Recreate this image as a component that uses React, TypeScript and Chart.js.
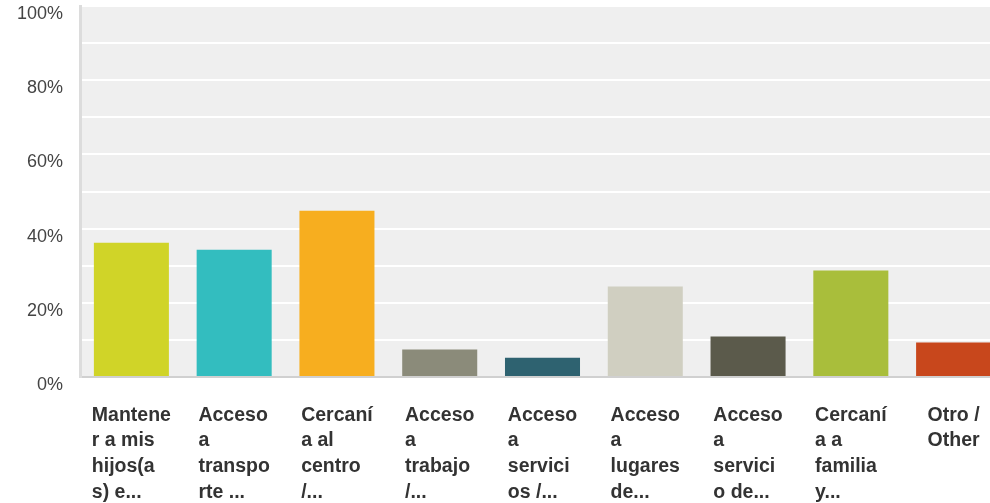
import React, { useEffect, useRef } from "react";
import { Chart, registerables } from "chart.js";

Chart.register(...registerables);

const categories: string[][] = [
  ["Mantene", "r a mis", "hijos(a", "s) e..."],
  ["Acceso", "a", "transpo", "rte ..."],
  ["Cercaní", "a al", "centro", "/..."],
  ["Acceso", "a", "trabajo", "/..."],
  ["Acceso", "a", "servici", "os /..."],
  ["Acceso", "a", "lugares", "de..."],
  ["Acceso", "a", "servici", "o de..."],
  ["Cercaní", "a a", "familia", "y..."],
  ["Otro /", "Other"],
];

const values: number[] = [36.2, 34.3, 44.8, 7.4, 5.2, 24.4, 10.9, 28.7, 9.3];

const barColors: string[] = [
  "#d0d428",
  "#33bdbf",
  "#f7ae1f",
  "#8b8b7a",
  "#2e6270",
  "#d0cfc1",
  "#5b5a4b",
  "#a9be3b",
  "#c8471c",
];

const yTicks: number[] = [0, 20, 40, 60, 80, 100];

const FONT = "'Liberation Sans', Arial, Helvetica, sans-serif";

const bgPlugin = {
  id: "plotBg",
  beforeDraw(chart: any) {
    const { ctx, chartArea } = chart;
    if (!chartArea) return;
    ctx.save();
    ctx.fillStyle = "#efefef";
    ctx.fillRect(chartArea.left, chartArea.top, chartArea.right - chartArea.left, chartArea.bottom - chartArea.top);
    ctx.restore();
  },
};

// Category labels: each block centred under its category, lines left-aligned within the block
const xLabelPlugin = {
  id: "xBlockLabels",
  afterDraw(chart: any) {
    const xs = chart.scales.x;
    const ctx = chart.ctx;
    const labels: string[][] = chart.data.labels;
    ctx.save();
    ctx.font = `bold 19.5px ${FONT}`;
    ctx.fillStyle = "#333333";
    ctx.textAlign = "left";
    ctx.textBaseline = "alphabetic";
    labels.forEach((lines, i) => {
      const cx = xs.getPixelForTick(i);
      const w = Math.max(...lines.map((l) => ctx.measureText(l).width));
      const left = cx - w / 2;
      lines.forEach((l, k) => {
        ctx.fillText(l, left, xs.top + 43.5 + k * 25.7);
      });
    });
    ctx.restore();
  },
};

function zeroPadding(scale: any) {
  scale.paddingTop = 0;
  scale.paddingBottom = 0;
  scale.paddingLeft = 0;
  scale.paddingRight = 0;
}

export default function App() {
  const ref = useRef<HTMLCanvasElement | null>(null);

  useEffect(() => {
    if (!ref.current) return;
    const chart = new Chart(ref.current, {
      type: "bar",
      data: {
        labels: categories,
        datasets: [
          {
            data: values,
            backgroundColor: barColors,
            borderWidth: 0,
            barPercentage: 0.73,
            categoryPercentage: 1,
          },
        ],
      },
      plugins: [bgPlugin, xLabelPlugin],
      options: {
        animation: false,
        responsive: false,
        maintainAspectRatio: false,
        layout: { padding: { top: 6, right: 0, left: 0, bottom: 0 } },
        plugins: {
          legend: { display: false },
          tooltip: { enabled: false },
        },
        scales: {
          x: {
            grid: { display: false, drawTicks: false },
            border: { display: true, color: "#d0d0d0", width: 2 },
            ticks: { display: false },
            afterFit(scale: any) {
              scale.height = 126;
              zeroPadding(scale);
            },
          },
          y: {
            min: 0,
            max: 100,
            grid: { color: "#ffffff", lineWidth: 2, drawTicks: false },
            border: { display: true, color: "#dcdcdc", width: 3 },
            ticks: {
              stepSize: 10,
              padding: 17,
              labelOffset: 8,
              color: "#444444",
              font: { family: FONT, size: 18 },
              callback: (v: any) => (yTicks.includes(Number(v)) ? v + "%" : ""),
            },
            afterFit(scale: any) {
              scale.width = 80;
              zeroPadding(scale);
            },
          },
        },
      } as any,
    });
    return () => chart.destroy();
  }, []);

  return (
    <div style={{ position: "fixed", left: 0, top: 0, width: 990, height: 503, overflow: "hidden", background: "#ffffff" }}>
      <canvas ref={ref} width={1005} height={503} style={{ width: 1005, height: 503, display: "block" }} />
    </div>
  );
}
